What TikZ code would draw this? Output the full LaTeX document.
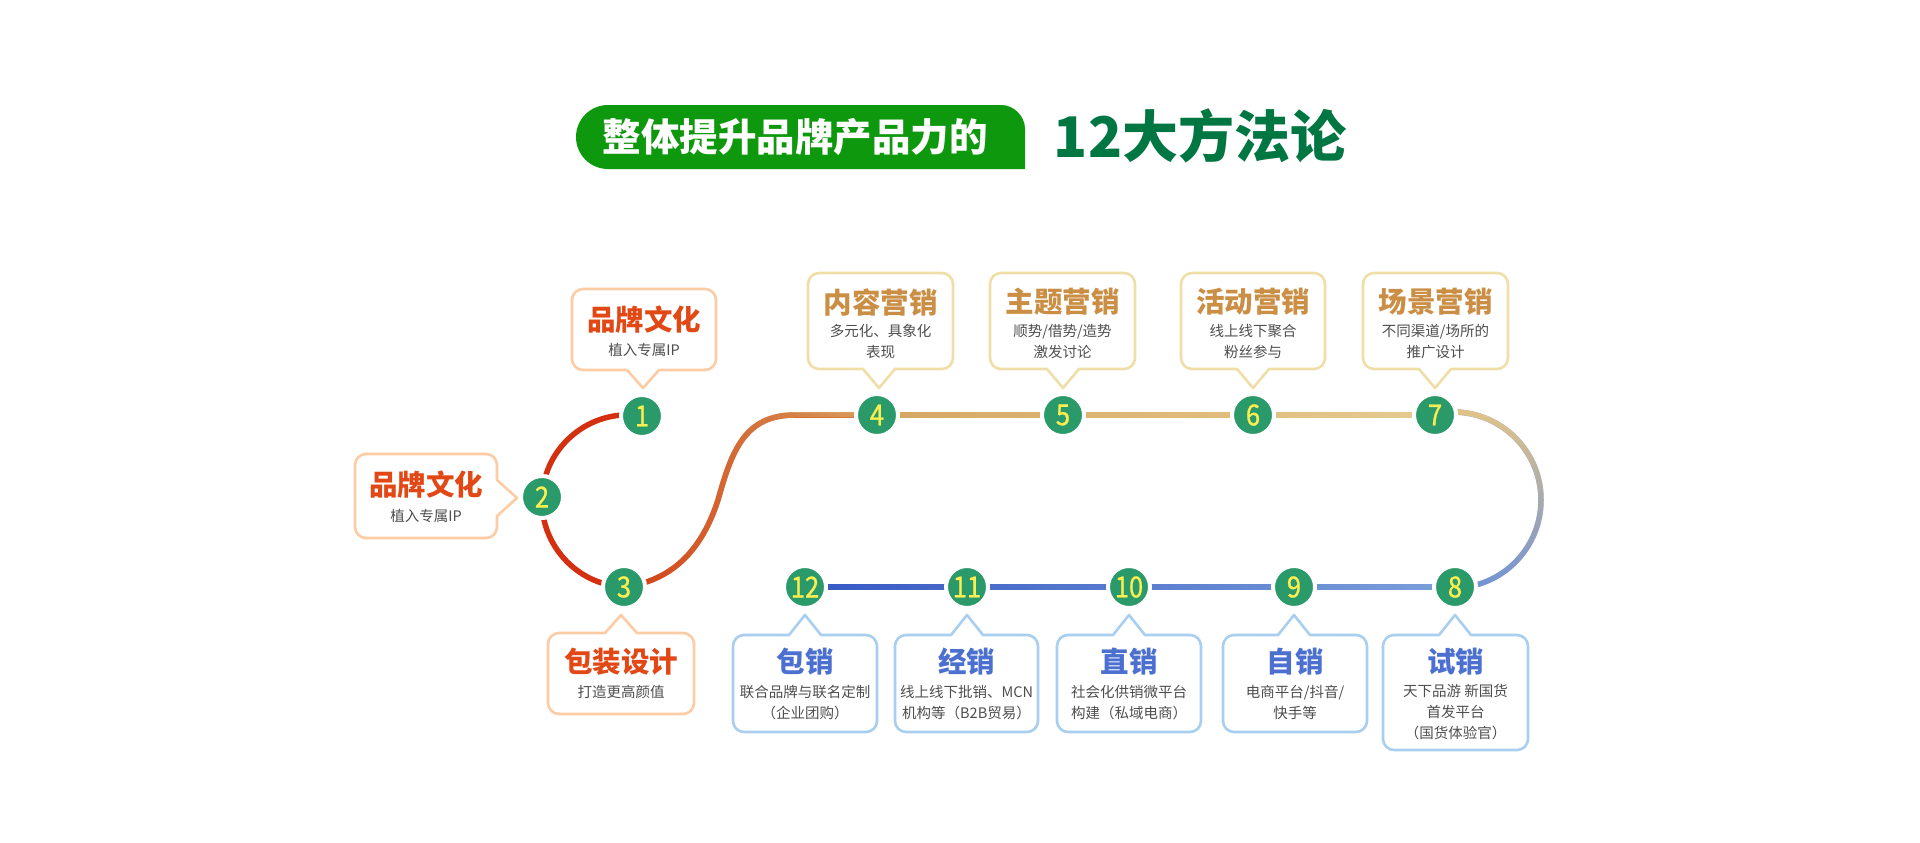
\documentclass[tikz,border=0pt]{standalone}
\usepackage{fontspec}
\newfontfamily\cjk{Noto Sans CJK SC}
\newfontfamily\numfont[FakeStretch=0.88,FakeBold=0.9]{Noto Sans CJK SC}
\usetikzlibrary{fadings}
\definecolor{pillG}{RGB}{14,152,14}
\definecolor{darkG}{RGB}{0,118,66}
\definecolor{circG}{RGB}{42,154,106}
\definecolor{numY}{RGB}{250,238,80}
\definecolor{lineRed}{RGB}{212,48,15}
\definecolor{lineRed2}{RGB}{210,62,22}
\definecolor{lineGold}{RGB}{216,164,96}
\definecolor{goldA}{RGB}{214,166,98}
\definecolor{goldB}{RGB}{230,203,145}
\definecolor{arcGold}{RGB}{226,196,136}
\definecolor{arcBlue}{RGB}{112,146,214}
\definecolor{blueDark}{RGB}{54,88,196}
\definecolor{blueMid}{RGB}{104,138,212}
\definecolor{blueLight}{RGB}{124,160,218}
\definecolor{bordO}{RGB}{253,203,164}
\definecolor{bordG}{RGB}{240,222,168}
\definecolor{bordB}{RGB}{168,206,240}
\definecolor{ttlO}{RGB}{226,72,22}
\definecolor{ttlG}{RGB}{202,142,68}
\definecolor{ttlB}{RGB}{76,112,208}
\definecolor{subGray}{RGB}{78,78,78}
\tikzfading[name=opaqueRight, left color=transparent!100, right color=transparent!0]
\tikzfading[name=opaqueTop, top color=transparent!0, bottom color=transparent!100]
\newcommand\bubDn[7]{\draw[#1] (#2+11,#3) -- (#4-11,#3) .. controls (#4-5,#3) and (#4,#3+5) .. (#4,#3+11) -- (#4,#5-11) .. controls (#4,#5-5) and (#4-5,#5) .. (#4-11,#5) -- (#6+16,#5) -- (#6,#7) -- (#6-16,#5) -- (#2+11,#5) .. controls (#2+5,#5) and (#2,#5-5) .. (#2,#5-11) -- (#2,#3+11) .. controls (#2,#3+5) and (#2+5,#3) .. (#2+11,#3) -- cycle;}
\newcommand\bubUp[7]{\draw[#1] (#2+11,#3) -- (#6-16,#3) -- (#6,#7) -- (#6+16,#3) -- (#4-11,#3) .. controls (#4-5,#3) and (#4,#3+5) .. (#4,#3+11) -- (#4,#5-11) .. controls (#4,#5-5) and (#4-5,#5) .. (#4-11,#5) -- (#2+11,#5) .. controls (#2+5,#5) and (#2,#5-5) .. (#2,#5-11) -- (#2,#3+11) .. controls (#2,#3+5) and (#2+5,#3) .. (#2+11,#3) -- cycle;}
\newcommand\bubRt[7]{\draw[#1] (#2+11,#3) -- (#4-11,#3) .. controls (#4-5,#3) and (#4,#3+5) .. (#4,#3+11) -- (#4,#6-18) -- (#7,#6) -- (#4,#6+18) -- (#4,#5-11) .. controls (#4,#5-5) and (#4-5,#5) .. (#4-11,#5) -- (#2+11,#5) .. controls (#2+5,#5) and (#2,#5-5) .. (#2,#5-11) -- (#2,#3+11) .. controls (#2,#3+5) and (#2+5,#3) .. (#2+11,#3) -- cycle;}
\tikzset{
  pathline/.style={line width=5.5pt},
  bubO/.style={draw=bordO, line width=2.6pt, fill=white, line join=round},
  bubG/.style={draw=bordG, line width=2.6pt, fill=white, line join=round},
  bubB/.style={draw=bordB, line width=2.6pt, fill=white, line join=round},
  num/.style={circle, fill=circG, draw=white, line width=4pt, minimum size=42pt, inner sep=0pt, text=numY, font=\numfont\fontsize{29}{29}\selectfont},
  ttl/.style={inner sep=0pt, font=\cjk\bfseries\fontsize{28.5}{30}\selectfont},
  subt/.style={inner sep=0pt, align=center, text=subGray, font=\cjk\fontsize{14.5}{21}\selectfont},
}
\begin{document}
\begin{tikzpicture}[x=1pt,y=-1pt]
\fill[white] (0,0) rectangle (1920,843);
\useasboundingbox (0,0) rectangle (1920,843);
% title
\fill[pillG] (608,105) -- (1001,105) .. controls (1014,105) and (1025,116) .. (1025,129) -- (1025,169) -- (608,169) .. controls (590.3,169) and (576,154.7) .. (576,137) .. controls (576,119.3) and (590.3,105) .. (608,105) -- cycle;
\node[text=white, inner sep=0pt, font=\cjk\bfseries\fontsize{38.5}{40}\selectfont] (title1) at (795,137) {整体提升品牌产品力的};
\node[text=darkG, inner sep=0pt, font=\cjk\bfseries\fontsize{56}{58}\selectfont] (title2) at (1200,136) {12大方法论};
% circle coordinates
\coordinate (p1) at (642,416);
\coordinate (p2) at (542,497);
\coordinate (p3) at (624,587);
\coordinate (p4) at (877,415);
\coordinate (p5) at (1063,415);
\coordinate (p6) at (1253,415);
\coordinate (p7) at (1435,415);
\coordinate (p8) at (1455,587);
\coordinate (p9) at (1294,587);
\coordinate (p10) at (1129,587);
\coordinate (p11) at (967,587);
\coordinate (p12) at (805,587);
% path lines
\draw[pathline, lineRed] (p1) .. controls (591.2,407.6) and (544.4,445.6) .. (p2) .. controls (539.8,544.4) and (576.6,584.8) .. (p3);
\draw[pathline, lineRed2] (p3) .. controls (680,580) and (705,540) .. (718,500) .. controls (732,450) and (745,415) .. (795,415) -- (p4);
\draw[pathline, lineGold, path fading=opaqueRight] (p3) .. controls (680,580) and (705,540) .. (718,500) .. controls (732,450) and (745,415) .. (795,415) -- (p4);
\shade[left color=goldA, right color=goldB] ([yshift=-2.75pt]p4) rectangle ([yshift=2.75pt]p7);
\draw[pathline, arcBlue] (p7) -- (1453,412) .. controls (1501.6,412) and (1541,451.4) .. (1541,500) .. controls (1541,548.6) and (1501.6,588) .. (1453,588) -- (p8);
\draw[pathline, arcGold, path fading=opaqueTop] (p7) -- (1453,412) .. controls (1501.6,412) and (1541,451.4) .. (1541,500) .. controls (1541,548.6) and (1501.6,588) .. (1453,588) -- (p8);
\shade[left color=blueDark, middle color=blueMid, right color=blueLight] ([yshift=-2.75pt]p12) rectangle ([yshift=2.75pt]p8);
% bubbles
\bubDn{bubO}{572}{289}{716}{370}{643}{388}
\bubRt{bubO}{355}{454}{497}{538}{498}{517}
\bubUp{bubO}{548}{633}{694}{714}{621}{615}
\bubDn{bubG}{808}{273}{953}{369}{879}{388}
\bubDn{bubG}{990}{273}{1135}{369}{1063}{388}
\bubDn{bubG}{1181}{273}{1325}{369}{1253}{388}
\bubDn{bubG}{1363}{273}{1508}{369}{1435}{388}
\bubUp{bubB}{733}{635}{877}{732}{805}{615}
\bubUp{bubB}{895}{635}{1038}{732}{967}{615}
\bubUp{bubB}{1057}{635}{1201}{732}{1129}{615}
\bubUp{bubB}{1223}{635}{1367}{732}{1294}{615}
\bubUp{bubB}{1383}{635}{1528}{750}{1455}{615}
% circles
\node[num] (c1) at (p1) {1};
\node[num] (c2) at (p2) {2};
\node[num] (c3) at (p3) {3};
\node[num] (c4) at (p4) {4};
\node[num] (c5) at (p5) {5};
\node[num] (c6) at (p6) {6};
\node[num] (c7) at (p7) {7};
\node[num] (c8) at (p8) {8};
\node[num] (c9) at (p9) {9};
\node[num] (c10) at (p10) {10};
\node[num] (c11) at (p11) {11};
\node[num] (c12) at (p12) {12};
% texts left
\node[ttl, text=ttlO] (t1) at (644,320) {品牌文化};
\node[subt] (s1) at (644,350) {植入专属IP};
\node[ttl, text=ttlO] (t2) at (426,485) {品牌文化};
\node[subt] (s2) at (426,516) {植入专属IP};
\node[ttl, text=ttlO] (t3) at (621,662) {包装设计};
\node[subt] (s3) at (621,692) {打造更高颜值};
% texts top
\node[ttl, text=ttlG] (t4) at (880.5,302) {内容营销};
\node[subt] (s4) at (880.5,341.5) {多元化、具象化\\表现};
\node[ttl, text=ttlG] (t5) at (1062.5,302) {主题营销};
\node[subt] (s5) at (1062.5,341.5) {顺势/借势/造势\\激发讨论};
\node[ttl, text=ttlG] (t6) at (1253,302) {活动营销};
\node[subt] (s6) at (1253,341.5) {线上线下聚合\\粉丝参与};
\node[ttl, text=ttlG] (t7) at (1435.5,302) {场景营销};
\node[subt] (s7) at (1435.5,341.5) {不同渠道/场所的\\推广设计};
% texts bottom
\node[ttl, text=ttlB] (t12) at (805,662) {包销};
\node[subt] (s12) at (805,702.5) {联合品牌与联名定制\\（企业团购）};
\node[ttl, text=ttlB] (t11) at (966.5,662) {经销};
\node[subt] (s11) at (966.5,702.5) {线上线下批销、MCN\\机构等（B2B贸易）};
\node[ttl, text=ttlB] (t10) at (1129,662) {直销};
\node[subt] (s10) at (1129,702.5) {社会化供销微平台\\构建（私域电商）};
\node[ttl, text=ttlB] (t9) at (1295,662) {自销};
\node[subt] (s9) at (1295,702.5) {电商平台/抖音/\\快手等};
\node[ttl, text=ttlB] (t8) at (1455.5,662) {试销};
\node[subt] (s8) at (1455.5,712.5) {天下品游 新国货\\首发平台\\（国货体验官）};
\end{tikzpicture}
\end{document}
